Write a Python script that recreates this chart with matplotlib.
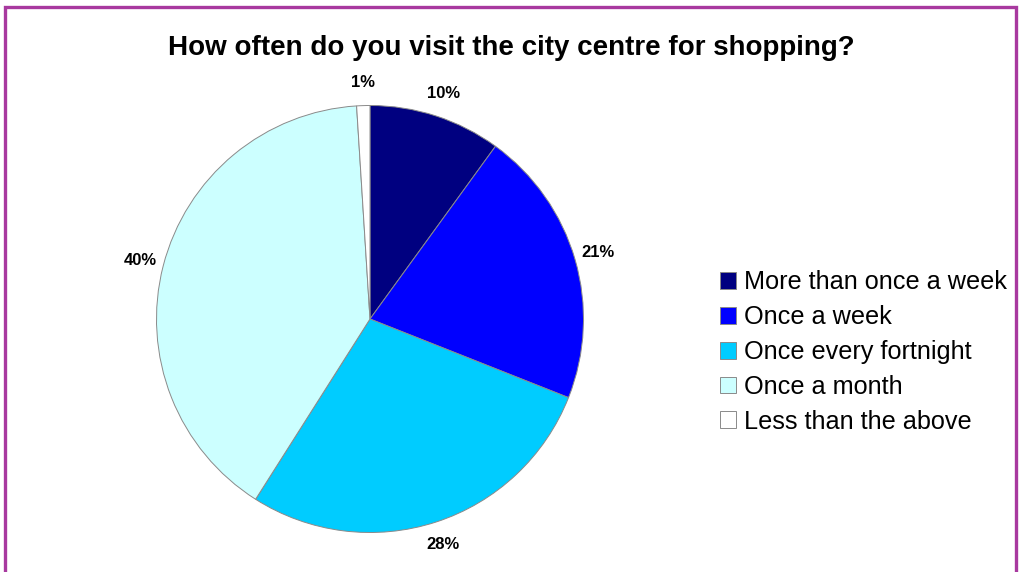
import matplotlib
matplotlib.use("Agg")
import matplotlib.pyplot as plt
from matplotlib.patches import Rectangle, Patch

plt.rcParams['font.family'] = ['Liberation Sans', 'DejaVu Sans']

categories = ['More than once a week', 'Once a week', 'Once every fortnight',
              'Once a month', 'Less than the above']
shares = [10, 21, 28, 40, 1]
slice_colors = ['#000080', '#0000ff', '#00ccff', '#ccffff', '#ffffff']

W, H = 1022, 572
fig = plt.figure(figsize=(W / 100, H / 100), dpi=100)

# pie axes: centre (370, 319) px from top-left, radius ~213 px
cx, cy, r = 370, 319, 213.5
ax = fig.add_axes([(cx - r) / W, (H - cy - r) / H, 2 * r / W, 2 * r / H])
wedges, texts = ax.pie(
    shares, colors=slice_colors, startangle=90, counterclock=False,
    labels=[f'{v}%' for v in shares], labeldistance=1.11,
    wedgeprops=dict(edgecolor='#8a8a8a', linewidth=0.7),
    textprops=dict(fontsize=12, fontweight='bold', ha='center', va='center'),
)
ax.set_xlim(-1, 1)
ax.set_ylim(-1, 1)
ax.set_aspect('equal')
ax.axis('off')

fig.text(0.5, 1 - 48 / H, 'How often do you visit the city centre for shopping?',
         ha='center', va='center', fontsize=20, fontweight='bold')

handles = [Patch(facecolor=c, edgecolor='#8a8a8a', linewidth=0.7) for c in slice_colors]
fig.legend(handles, categories, loc='center left',
           bbox_to_anchor=(707 / W, 1 - 352 / H), frameon=False,
           fontsize=18.2, handlelength=0.65, handleheight=0.65,
           handletextpad=0.3, labelspacing=0.43, borderpad=0)

# magenta frame, open at the bottom
fig.add_artist(Rectangle((5 / W, -0.05), 1011 / W, 1.05 - 7 / H,
                         transform=fig.transFigure, fill=False,
                         edgecolor='#a8399f', linewidth=2.4))

fig.savefig('out.png', dpi=100)
